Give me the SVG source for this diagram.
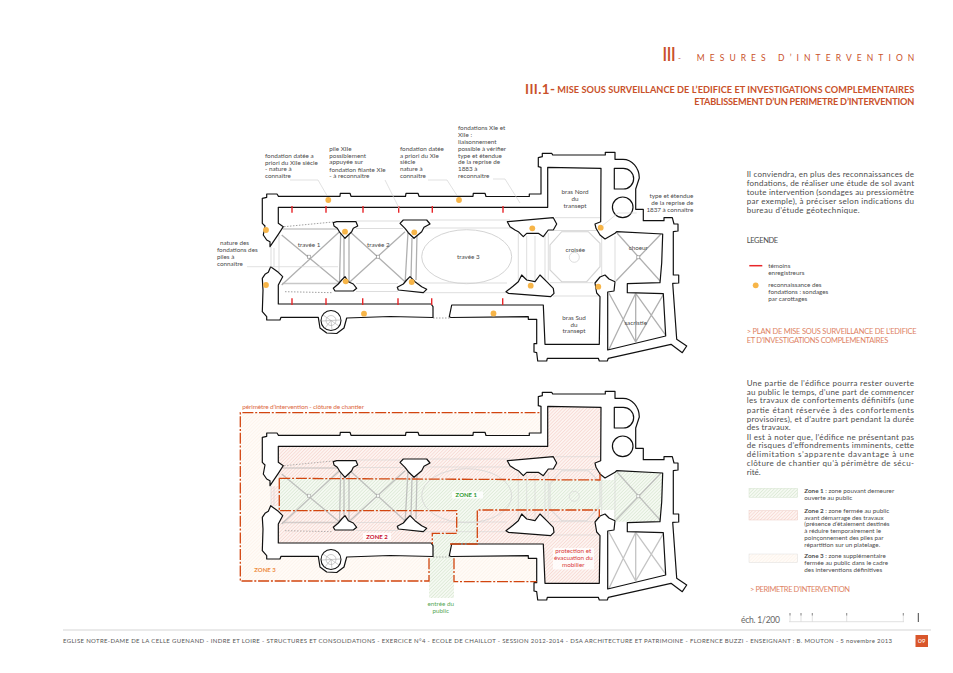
<svg xmlns="http://www.w3.org/2000/svg" xmlns:xlink="http://www.w3.org/1999/xlink" width="953" height="673" viewBox="0 0 953 673">
<style>
text{font-family:"Lato","Open Sans","Liberation Sans",sans-serif;fill:#4c4c4c}
.a{font-size:6.3px}
.am{font-size:6.3px;text-anchor:middle}
.ae{font-size:6.3px;text-anchor:end}
.p{font-size:8px}
.t{fill:#c9512a}
.o{fill:#de8263;font-size:7.500px}
.wall{fill:#fff;stroke:#111;stroke-width:1.200;stroke-linejoin:round}
.vh{fill:none;stroke:#b0b0b0;stroke-width:1.300}
.vl{fill:none;stroke:#d4d4d4;stroke-width:.8}
.vd{fill:none;stroke:#777;stroke-width:.7;stroke-dasharray:1.5 1.5}
.lead{fill:none;stroke:#d4d4d4;stroke-width:.7}
.tick{stroke:#e8262a;stroke-width:1.400;fill:none}
.dot{fill:#f7b548}
.per{fill:none;stroke:#d2450f;stroke-width:1.300;stroke-dasharray:11 1.800 2 1.800}
</style>
<defs>
<pattern id="hG" width="2.400" height="2.400" patternUnits="userSpaceOnUse" patternTransform="rotate(45)"><rect width="2.400" height="2.400" fill="#f5f9f2"/><line x1="0" y1="0" x2="0" y2="2.400" stroke="#cfe2c8" stroke-width="1"/></pattern>
<pattern id="hP" width="2.400" height="2.400" patternUnits="userSpaceOnUse" patternTransform="rotate(45)"><rect width="2.400" height="2.400" fill="#fdf4f1"/><line x1="0" y1="0" x2="0" y2="2.400" stroke="#f4cbc3" stroke-width="1"/></pattern>
<pattern id="hO" width="2.400" height="2.400" patternUnits="userSpaceOnUse" patternTransform="rotate(45)"><rect width="2.400" height="2.400" fill="#fffbf7"/><line x1="0" y1="0" x2="0" y2="2.400" stroke="#fdf1e6" stroke-width="1"/></pattern>
<g id="vault">
<path class="vh" d="M281.700 235L339.500 283M281.700 285L339.500 231.700M350 231.700L405 281.700M405 231.700L350 281.700M340.700 232L339.500 283M344 238L344 278M349 232L349 282M408 232L405 285M412 238L411 278M417 235L416 280"/>
<path class="vh" d="M617 233L661 282M661 234L616 281M609 293.300L635.700 342M635.700 293.300L609 349.300M635.700 293.300L666.700 336.700M664 293.300L635.700 342M635.700 293.300V342"/>
<path class="vh" d="M282 283.500H340M283 229H338" stroke-opacity=".7"/>
<rect x="307.600" y="255.200" width="3" height="3" fill="#fff" stroke="#888" stroke-width=".6"/>
<rect x="376.500" y="255.200" width="3" height="3" fill="#fff" stroke="#888" stroke-width=".6"/>
<rect x="636.800" y="255.800" width="3" height="3" fill="#fff" stroke="#888" stroke-width=".6"/>
<path class="vl" d="M279 235V285M356 221H400M356 228.500H403M356 283.500H398M356 291.500H398M430 220H510M420 228H518M418 283H507M420 292.700H507"/>
<ellipse class="vl" cx="466.700" cy="256.700" rx="45" ry="27" style="stroke-width:1"/>
<path class="vl" style="stroke-width:1.100" d="M561.700 231.700H588.300L600 243.300V266.700L586.700 281.700H561.700L550 270V245Z"/>
<circle class="vl" cx="574.300" cy="257.300" r="5"/>
<path class="vl" d="M555 217.700H600.700M554 230.500H601M550 282.700H593M553 296H599M615 236V281M601.700 233V280M548.300 233V280M518.300 233V282M526.700 236V280M535 236V280M545 233V280"/>
<path class="vl" d="M303 196L306 206M316 196L313 206M305 199H314M372 196L375 206M385 196L382 206M374 199H383M471 196L474 206M485 196L482 206M473 199H483M308 317L305 305M320 305L318 317M390 317L393 305M406 317L403 305M463 317L466 305M477 317L474 305"/>
<path class="vl" d="M271 247V267M274 248V267M668.300 243V263M666 246H671M666 253H671M666 260H671M670 300V320M668 304H673M668 311H673M668 317H673M553 350H593M553 347H593M560 347V351M575 347V351M586 347V351"/>
<path class="vd" d="M284 226.700L333 222M285 291.700L333 292.700M433 318H450M611 355L670 342"/>
</g>
<g id="walls">
<path class="wall" d="M270 246.700V241.700L266.700 240L263.300 235L265 226L262.300 223.300V198.300L266.700 197.300V194H277L278.500 196.300H340L340.300 193.300H350L351 196.300H405.500L406 193.300H418L419 196.300H473L473.300 193.300H485L486 196.500H529.300V194H541V167.300L538.300 166.700V157.700L542.300 156.700V153.300H551.700L552.700 155H605.300V152.300H615V159.300H623C632 159.300 639.300 168 639.300 178L635.700 189V209.300H643.300V220.700H664V217.700H672.300L674 224H678V231L673.300 231.700V275H678.700V283L672.700 283.300L676.700 339.300L686.700 346L682.300 352.700L671 344.300L608.300 358.300L607.300 361H599.300L598.300 358.300H547.300L546.700 361H537.700L536.700 352.700L534 352V343.700H536.700V319.300H528.300V316.700L451 317.500L449.300 316.700L451.700 305H543.300L545 344.300H599.300L600 296.700L596.700 293L595 283L600 277L605 275L609 279L615 281.700L614 291L607.700 292V350L665.700 336L663.300 293.700L627.300 292.700V283.700L660 282.700L661.700 263L662.700 234L616.700 231.700L615 233.300L605 239L600 235L596 228.300L595 224L600.700 221.700L601 168.300L547.700 167.300V207.300H278.300V223.300L283.300 226.700L278.300 234.300Z"/>
<path class="wall" d="M270.700 266.700L268.300 272.300L265 274.300L262.300 278.300L263 290L262.300 311.700L266.700 316.700V320H280L281 317.300H318.300L320 328L326.700 333L336.700 333.500L344 328L346.700 318L390 316.500L433 317.500V306.700L431 304H278.300V285L282.700 276.700L278.300 272.300Z"/>
<circle cx="331" cy="320.500" r="10" fill="#fff" stroke="#111" stroke-width="1.100"/>
<path d="M331 320.500L323 315M331 320.500L322 321M331 320.500L325 328M331 320.500L332 330M331 320.500L339 326M331 320.500L340 320" stroke="#aaa" stroke-width=".6" fill="none"/>
<circle cx="331" cy="320.500" r="5" fill="none" stroke="#aaa" stroke-width=".6"/>
<path class="wall" d="M614.300 168.300H623.300A10.300 10.300 0 0 1 623.300 189H614.300Z"/>
<circle class="wall" cx="622.700" cy="207.300" r="10.300"/>
<path class="wall" d="M333.300 222.700L336.700 221.700H356L357.700 226L353.300 228.300L351.700 231.700L345 238.300L340 232.700L337.300 228.300L334 226Z"/>
<path class="wall" d="M345 276.700L348.300 281.700L353.300 284L356.700 288.300L353.300 291H335L333.300 288.300L338.300 284L341.700 280Z"/>
<path class="wall" d="M400 223.300L403.300 220H426.700L430 224L424 227.300L421.700 231.700L414 238.300L408.300 232.700L405 228.300Z"/>
<path class="wall" d="M410 276.700L415 281.700L421.700 286.700L426.700 289.300L423.300 292.700L398.300 290L397.300 287.300L403.300 284L406.700 280Z"/>
<path class="wall" d="M507.300 221.700L553.300 217.700L556.700 224L553.300 230H548.300L543.300 236.700L538.300 233.300H526.700L523.300 236.700L518.300 231.700L515 230L510 226.700Z"/>
<path class="wall" d="M506 291.700L513.300 286L518.300 281.700L521.700 275L526.700 280L535 281.700L540 275L546.700 281.700L553.300 288.300L554 293.300L550.700 296.700L508.300 293.300Z"/>
</g>
</defs>
<g id="header">
<text x="662" y="61" class="t" style="font-size:20px" textLength="14">III</text>
<text x="678" y="61" class="t" style="font-size:8px">-</text>
<text x="696.700" y="60.700" class="t" style="font-size:8.500px" textLength="217.600">MESURES D’INTERVENTION</text>
<text x="525" y="94" class="t" style="font-size:13.500px;font-weight:700" textLength="30">III.1-</text>
<text x="557.300" y="93.300" class="t" style="font-size:9.200px;font-weight:700" textLength="357">MISE SOUS SURVEILLANCE DE L’EDIFICE ET INVESTIGATIONS COMPLEMENTAIRES</text>
<text x="694.300" y="105" class="t" style="font-size:9.200px;font-weight:700" textLength="220">ETABLISSEMENT D’UN PERIMETRE D’INTERVENTION</text>
</g>
<g id="plan-surveillance">
<use xlink:href="#vault" href="#vault"/>
<use xlink:href="#walls" href="#walls"/>
<g id="temoins">
<path class="tick" d="M292 206V212.700M326 206V212.700M363 206V212.700M398.700 206V212.700M432.300 206V212.700M503 206V212.700M292 298.300V305M326 298.300V305M362.700 298.300V305M398 298.300V305M431.700 298.300V305M502.700 298.300V305"/>
</g>
<g id="carottages">
<circle class="dot" cx="328.300" cy="200" r="2.900"/><circle class="dot" cx="459" cy="200" r="2.900"/><circle class="dot" cx="266" cy="230" r="2.900"/><circle class="dot" cx="266" cy="285" r="2.900"/><circle class="dot" cx="345" cy="231.700" r="2.900"/><circle class="dot" cx="414.300" cy="232.300" r="2.900"/><circle class="dot" cx="345.700" cy="281.300" r="2.900"/><circle class="dot" cx="411.700" cy="282" r="2.900"/><circle class="dot" cx="364" cy="313.700" r="2.900"/><circle class="dot" cx="493.500" cy="313.500" r="2.900"/><circle class="dot" cx="532.300" cy="228.300" r="2.900"/><circle class="dot" cx="600.700" cy="227.700" r="2.900"/><circle class="dot" cx="530.700" cy="285.700" r="2.900"/><circle class="dot" cx="598.300" cy="286.700" r="2.900"/>
</g>
<g id="connectors">
<path class="lead" d="M290 180H318L326.700 195M385 180L400 210M428 180H447L456.700 195M493 179H505L520 203M247 266.700H338M636.700 213H618L602 226"/>
</g>
<text class="a"><tspan x="265" y="157.700">fondation datée a</tspan><tspan x="265" y="164.700">priori du XIIe siècle</tspan><tspan x="265" y="171.300">- nature à</tspan><tspan x="265" y="178.300">connaître</tspan></text>
<text class="a"><tspan x="329.300" y="150.700">pile XIIe</tspan><tspan x="329.300" y="157.700">possiblement</tspan><tspan x="329.300" y="164.300">appuyée sur</tspan><tspan x="329.300" y="171.700">fondation filante XIe</tspan><tspan x="329.300" y="178.300">- à reconnaître</tspan></text>
<text class="a"><tspan x="400" y="150.700">fondation datée</tspan><tspan x="400" y="157.700">a priori du XIe</tspan><tspan x="400" y="164.300">siècle</tspan><tspan x="400" y="171.300">nature à</tspan><tspan x="400" y="178.300">connaître</tspan></text>
<text class="a"><tspan x="458" y="130">fondations XIe et</tspan><tspan x="458" y="137.300">XIIe :</tspan><tspan x="458" y="144">liaisonnement</tspan><tspan x="458" y="150.700">possible à vérifier</tspan><tspan x="458" y="157.700">type et étendue</tspan><tspan x="458" y="164.300">de la reprise de</tspan><tspan x="458" y="171.300">1883 à</tspan><tspan x="458" y="178.300">reconnaître</tspan></text>
<text class="a"><tspan x="220" y="245">nature des</tspan><tspan x="217" y="251.700">fondations des</tspan><tspan x="217" y="258.700">piles à</tspan><tspan x="217" y="265.700">connaître</tspan></text>
<text class="ae"><tspan x="693.300" y="197.700">type et étendue</tspan><tspan x="693.300" y="204.700">de la reprise de</tspan><tspan x="693.300" y="211.700">1837 à connaître</tspan></text>
<text class="am" x="309" y="246.700">travée 1</text><text class="am" x="378.300" y="246.700">travée 2</text><text class="am" x="468.300" y="259.300">travée 3</text>
<text class="am"><tspan x="575" y="194.300">bras Nord</tspan><tspan x="575" y="201.300">du</tspan><tspan x="575" y="208.300">transept</tspan></text>
<text class="am" x="575.300" y="252">croisée</text><text class="am" x="638.300" y="250">choeur</text>
<text class="am"><tspan x="574" y="320">bras Sud</tspan><tspan x="574" y="326.700">du</tspan><tspan x="574" y="333.300">transept</tspan></text>
<text class="am" x="635.700" y="325">sacristie</text>
</g>
<g id="texte-surveillance">
<text class="p" x="746.700" y="177.300" textLength="167.300">Il conviendra, en plus des reconnaissances de</text>
<text class="p" x="746.700" y="186.300" textLength="167.300">fondations, de réaliser une étude de sol avant</text>
<text class="p" x="746.700" y="195.300" textLength="167.300">toute intervention (sondages au pressiomètre</text>
<text class="p" x="746.700" y="204.300" textLength="167.300">par exemple), à préciser selon indications du</text>
<text class="p" x="746.700" y="213" textLength="113">bureau d’étude géotechnique.</text>
<text class="p" x="746.700" y="243" textLength="31.500" style="font-size:7.500px">LEGENDE</text>
<line x1="749.300" y1="265.700" x2="762.300" y2="265.700" stroke="#e8262a" stroke-width="1.500"/>
<text class="a"><tspan x="768.300" y="268.300">témoins</tspan><tspan x="768.300" y="275.300">enregistreurs</tspan></text>
<circle class="dot" cx="755.700" cy="285.300" r="2.900"/>
<text class="a"><tspan x="768.300" y="287">reconnaissance des</tspan><tspan x="768.300" y="294">fondations : sondages</tspan><tspan x="768.300" y="301">par carottages</tspan></text>
<text class="o" x="746.700" y="334.300" textLength="170">&gt; PLAN DE MISE SOUS SURVEILLANCE DE L’EDIFICE</text>
<text class="o" x="746.700" y="343.300" textLength="141.600">ET D’INVESTIGATIONS COMPLEMENTAIRES</text>
</g>
<g id="plan-perimetre">
<path id="zone3" fill="url(#hO)" d="M240.300 412.700H540.700V460L536.700 581.700H454V558H429V581H240.300Z"/>
<path id="zone2" fill="url(#hP)" d="M279 445.500H547.700V406H601V480H279ZM279 510.700H456.700V533.300H432V545H279ZM477.300 510H600V584H543L543 545H477.300ZM271 486H279V506H271Z"/>
<path id="zone1" fill="url(#hG)" d="M279.300 478.300L600 480H614V471.700H662.700V521.700H614V510H477.300V546H454V598H429V558H433V533.300H456.700V510.700H279.300Z"/>
<g opacity=".75" transform="translate(0 239)"><use xlink:href="#vault" href="#vault"/></g>
<g transform="translate(0 239)"><use xlink:href="#walls" href="#walls"/></g>
<path class="per" d="M429 558.300V581H240.300V412.700H540.700M454 558.300V581.700H536.700"/>
<path class="per" d="M279.300 478.300L600 480V472M279.300 478.300V510.700H456.700V533.300H432.300V544M450 544H477.300V510H599.300V517"/>
<rect x="452" y="491.500" width="31" height="7" fill="#fff" fill-opacity=".85"/>
<text x="466.300" y="497" text-anchor="middle" style="font-size:6px;font-weight:700;fill:#2f9a2f">ZONE 1</text>
<rect x="363" y="533" width="28" height="7" fill="#fff" fill-opacity=".85"/>
<text x="377" y="538.700" text-anchor="middle" style="font-size:6px;font-weight:700;fill:#c8102e">ZONE 2</text>
<text x="265" y="571.500" text-anchor="middle" style="font-size:6px;font-weight:700;fill:#ee8a3c">ZONE 3</text>
<text x="242.300" y="409" style="font-size:6.500px;fill:#dd6a44" textLength="121.700">périmètre d’intervention - clôture de chantier</text>
<rect x="553" y="548" width="41" height="21.500" fill="#fff" fill-opacity=".8"/>
<text class="am" style="fill:#d93a3a"><tspan x="573.300" y="553.300">protection et</tspan><tspan x="573.300" y="560.300">évacuation du</tspan><tspan x="573.300" y="567.300">mobilier</tspan></text>
<text class="am" style="fill:#58a858"><tspan x="440.700" y="605.700">entrée du</tspan><tspan x="440.700" y="612.700">public</tspan></text>
</g>
<g id="texte-perimetre">
<text class="p" x="746.700" y="386" textLength="167.300">Une partie de l’édifice pourra rester ouverte</text>
<text class="p" x="746.700" y="394.700" textLength="167.300">au public le temps, d’une part de commencer</text>
<text class="p" x="746.700" y="403.300" textLength="167.300">les travaux de confortements définitifs (une</text>
<text class="p" x="746.700" y="412.700" textLength="167.300">partie étant réservée à des confortements</text>
<text class="p" x="746.700" y="421.700" textLength="167.300">provisoires),  et d’autre part pendant la durée</text>
<text class="p" x="746.700" y="430" textLength="44">des travaux.</text>
<text class="p" x="746.700" y="440" textLength="167.300">Il est à noter que, l’édifice ne présentant pas</text>
<text class="p" x="746.700" y="448.300" textLength="167.300">de risques d’effondrements imminents, cette</text>
<text class="p" x="746.700" y="456.700" textLength="167.300">délimitation s’apparente davantage à une</text>
<text class="p" x="746.700" y="465.700" textLength="167.300">clôture de chantier qu’à périmètre de sécu-</text>
<text class="p" x="746.700" y="475" textLength="14">rité.</text>
<rect x="749" y="488.300" width="48.700" height="9" fill="url(#hG)" stroke="#d5e3cf" stroke-width=".5"/>
<rect x="749" y="510.700" width="48.700" height="9.300" fill="url(#hP)" stroke="#ecc9c2" stroke-width=".5"/>
<rect x="749" y="554" width="48.700" height="8.700" fill="url(#hO)" stroke="#ddd" stroke-width=".5"/>
<text class="a"><tspan x="804.300" y="492.700" font-weight="700">Zone 1</tspan><tspan> : zone pouvant demeurer</tspan><tspan x="804.300" y="500">ouverte au public</tspan></text>
<text class="a"><tspan x="804.300" y="512.700" font-weight="700">Zone 2</tspan><tspan> : zone fermée au public</tspan><tspan x="804.300" y="519.700">avant démarrage des travaux</tspan><tspan x="804.300" y="526.300">(présence d’étaiement destinés</tspan><tspan x="804.300" y="533.300">à réduire temporairement le</tspan><tspan x="804.300" y="540">poinçonnement des piles par</tspan><tspan x="804.300" y="547.300">répartition sur un platelage.</tspan></text>
<text class="a"><tspan x="804.300" y="558" font-weight="700">Zone 3</tspan><tspan> : zone supplémentaire</tspan><tspan x="804.300" y="564.700">fermée au public dans le cadre</tspan><tspan x="804.300" y="571.700">des interventions définitives</tspan></text>
<text class="o" x="750" y="592.300" textLength="100">&gt; PERIMETRE D’INTERVENTION</text>
</g>
<g id="echelle">
<text x="741" y="622.700" style="font-size:8.500px;fill:#666" textLength="39">éch.  1/200</text>
<path d="M789 621.700H904M790 613V621.700M801 613V621.700M812.300 613V621.700M846.700 613V621.700M903.300 613V621.700" fill="none" stroke="#cfcfcf" stroke-width=".6"/>
<path d="M790 613V615.500M801 613V615.500M812.300 613V615.500M846.700 613V615.500M903.300 613V615.500" fill="none" stroke="#666" stroke-width=".7"/>
<path d="M918.300 613V622" stroke="#444" stroke-width="1"/>
</g>
<g id="pied">
<line x1="63" y1="630" x2="931" y2="630" stroke="#d6d6d6" stroke-width="1.200"/>
<text x="63" y="643" style="font-size:6px;fill:#555" textLength="829">EGLISE NOTRE-DAME DE LA CELLE GUENAND  -  INDRE ET LOIRE  -  STRUCTURES ET CONSOLIDATIONS  -  EXERCICE N°4  - ECOLE DE CHAILLOT  -  SESSION 2012-2014  -  DSA ARCHITECTURE ET PATRIMOINE  -  FLORENCE BUZZI  -  ENSEIGNANT : B. MOUTON  -  5 novembre  2013</text>
<rect x="915.500" y="635" width="12.500" height="12" fill="#d9562b"/>
<text x="921.700" y="643.300" text-anchor="middle" style="font-size:6.500px;fill:#fff">09</text>
</g>
</svg>
